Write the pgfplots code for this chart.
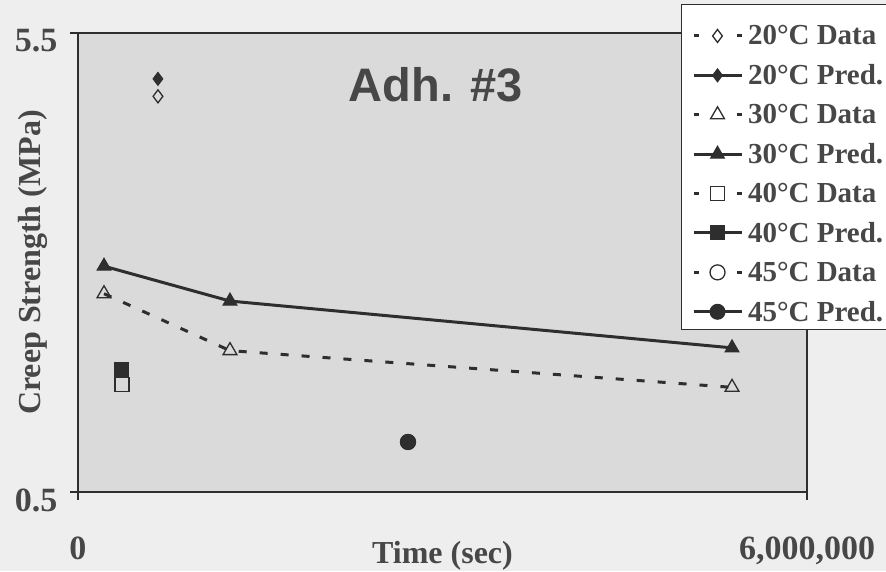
\documentclass[border=0pt]{standalone}
\usepackage{pgfplots}
\pgfplotsset{compat=1.18}
\usepackage{fontspec}
\setmainfont{Liberation Serif}
\newfontfamily\arialfont{Liberation Sans}
\definecolor{txt}{HTML}{474747}
\definecolor{plotbg}{HTML}{DADADA}
\definecolor{pagebg}{HTML}{EEEEEE}
\definecolor{ln}{HTML}{2E2E2E}

\pgfplotsset{
  datastyle/.style={ln, line width=3pt, dash pattern=on 8pt off 13pt,
    mark options={solid, fill=white, draw=ln, line width=1.3pt},
    legend image code/.code={\draw[mark repeat=2, mark phase=2, ##1, dash pattern=on 5pt off 38pt] plot coordinates {(0pt,0pt) (24pt,0pt) (48pt,0pt)};}},
  predstyle/.style={ln, line width=3pt, solid,
    mark options={solid, fill=ln, draw=ln, line width=1pt},
    legend image code/.code={\draw[mark repeat=2, mark phase=2, ##1] plot coordinates {(0pt,0pt) (24pt,0pt) (48pt,0pt)};}},
}

\begin{document}
\begin{tikzpicture}[x=1pt,y=1pt]
\fill[pagebg] (0,0) rectangle (886,571);
\begin{axis}[
  at={(78pt,79pt)}, anchor=south west,
  width=729pt, height=459pt, scale only axis,
  xmin=0, xmax=6000000, ymin=0.5, ymax=5.5,
  clip=false,
  axis background/.style={fill=plotbg},
  axis line style={ln, line width=2.5pt},
  xtick={0,6000000}, xticklabels={0,{6,000,000}},
  ytick={0.5,5.5}, yticklabels={0.5,5.5},
  tick pos=left, tick align=outside,
  major tick length=8pt,
  tick style={ln, line width=2.5pt},
  ticklabel style={font=\bfseries\fontsize{34}{34}\selectfont, text=txt},
  yticklabel style={xshift=-9pt, yshift=-8pt},
  xticklabel style={yshift=-33pt},
  scaled x ticks=false,
  xlabel={Time (sec)}, ylabel={Creep Strength (MPa)},
  label style={font=\bfseries\fontsize{32}{32}\selectfont, text=txt},
  xlabel style={at={(axis description cs:0.5,-0.14)}, anchor=center},
  ylabel style={at={(axis description cs:-0.062,0.5)}, anchor=center},
  legend cell align=left,
  legend style={at={(axis description cs:0.842,1.021)}, anchor=north west,
    draw=none, fill=none, font=\bfseries\fontsize{29}{29}\selectfont, text=txt,
    inner xsep=0pt, inner ysep=0pt, row sep=14.2pt, column sep=3pt,
    nodes={inner sep=2pt}},
]
% legend box (drawn over the frame)
\draw[fill=white, draw=ln, line width=1pt] (axis description cs:0.8285,1.061) rectangle (axis description cs:1.2,0.353);

\addplot[datastyle, mark=diamond, mark size=6.5pt] coordinates {(658000,4.81)};
\addlegendentry{20°C Data}
\addplot[predstyle, mark=diamond*, mark size=6.5pt] coordinates {(658000,5.00)};
\addlegendentry{20°C Pred.}
\addplot[datastyle, mark=triangle, mark size=8pt] coordinates {(214000,2.66) (1251000,2.04) (5383000,1.64)};
\addlegendentry{30°C Data}
\addplot[predstyle, mark=triangle*, mark size=8pt] coordinates {(214000,2.96) (1251000,2.58) (5383000,2.07)};
\addlegendentry{30°C Pred.}
\addplot[datastyle, mark=square, mark size=7pt] coordinates {(362000,1.67)};
\addlegendentry{40°C Data}
\addplot[predstyle, mark=square*, mark size=7pt] coordinates {(362000,1.83)};
\addlegendentry{40°C Pred.}
\addplot[datastyle, mark=o, mark size=7.5pt] coordinates {(2716000,1.045)};
\addlegendentry{45°C Data}
\addplot[predstyle, mark=*, mark size=7.5pt] coordinates {(2716000,1.045)};
\addlegendentry{45°C Pred.}

\node[font=\arialfont\bfseries\fontsize{47}{47}\selectfont, text=txt] at (axis description cs:0.491,0.887) {Adh. \#3};
\end{axis}
\pgfresetboundingbox
\useasboundingbox (0,0) rectangle (886,571);
\end{tikzpicture}
\end{document}
